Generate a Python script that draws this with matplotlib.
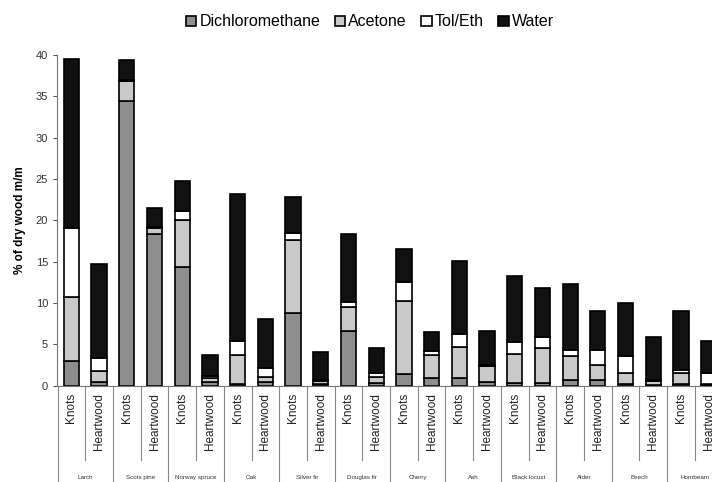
import matplotlib
matplotlib.use("Agg")
import matplotlib.pyplot as plt
import matplotlib.transforms as mtransforms
import numpy as np

plt.rcParams["font.family"] = ["Liberation Sans Narrow", "Liberation Sans", "DejaVu Sans"]

species = ["Larch", "Scots pine", "Norway spruce", "Oak", "Silver fir", "Douglas fir",
           "Cherry", "Ash", "Black locust", "Alder", "Beech", "Hornbeam"]
parts = ["Knots", "Heartwood"]

dcm = [3.0, 0.4, 34.4, 18.3, 14.4, 0.4, 0.2, 0.4, 8.8, 0.2, 6.6, 0.3,
       1.4, 0.9, 0.9, 0.4, 0.3, 0.3, 0.7, 0.7, 0.2, 0.1, 0.2, 0.1]
acetone = [7.7, 1.4, 2.5, 0.8, 5.6, 0.5, 3.5, 0.6, 8.8, 0.3, 2.9, 0.7,
           8.8, 2.8, 3.8, 2.0, 3.5, 4.3, 2.9, 1.8, 1.35, 0.5, 1.3, 0.1]
toleth = [8.4, 1.5, 0.1, 0.1, 1.1, 0.3, 1.75, 1.1, 0.9, 0.2, 0.6, 0.5,
          2.3, 0.5, 1.6, 0.1, 1.45, 1.3, 0.7, 1.8, 2.0, 0.1, 0.4, 1.3]
water = [20.4, 11.4, 2.4, 2.3, 3.7, 2.5, 17.7, 6.0, 4.3, 3.4, 8.3, 3.0,
         4.0, 2.25, 8.8, 4.1, 8.05, 5.9, 8.0, 4.7, 6.45, 5.15, 7.1, 3.95]

series = [("Dichloromethane", dcm, "#8e8e8e"),
          ("Acetone", acetone, "#c9c9c9"),
          ("Tol/Eth", toleth, "#ffffff"),
          ("Water", water, "#111111")]

fig = plt.figure(figsize=(7.12, 4.82), dpi=100)
ax = fig.add_axes([57 / 712, 0.2, 655 / 712, 0.686])

x = np.arange(len(dcm))
bottom = np.zeros(len(dcm))
for name, vals, col in series:
    ax.bar(x, vals, 0.55, bottom=bottom, color=col, edgecolor="black",
           linewidth=1.2, label=name)
    bottom += np.array(vals)

ax.set_xlim(-0.52, 23.12)
ax.set_ylim(0, 40)
ax.set_yticks(range(0, 41, 5))
ax.tick_params(axis="y", labelsize=8, colors="#555555", length=3, width=0.8, labelcolor="#333333")
ax.set_xticks([])
for s in ["top", "right"]:
    ax.spines[s].set_visible(False)
ax.spines["left"].set_color("#777777")
ax.spines["bottom"].set_color("#777777")
ax.set_ylabel("% of dry wood m/m", fontsize=8.5, fontweight="bold", labelpad=7)

trans = mtransforms.blended_transform_factory(ax.transData, ax.transAxes)
# Knots / Heartwood labels, separators and species names
for i in range(len(dcm)):
    ax.text(i, -0.022, parts[i % 2], transform=trans, rotation=90, ha="center", va="top",
            fontsize=8.5, color="#222222")
for i in range(len(dcm)):
    xb = i - 0.5
    low = -0.3 if i % 2 == 0 else -0.225
    ax.plot([xb, xb], [0, low], transform=trans, color="#888888", lw=0.8, clip_on=False)
for g, name in enumerate(species):
    ax.text(2 * g + 0.5, -0.277, name, transform=trans, ha="center", va="center",
            fontsize=4.5, color="#333333")

fig.legend(loc="center", bbox_to_anchor=(370 / 712, 1 - 22 / 482), ncol=4, frameon=False,
           fontsize=11.5, handlelength=0.65, handleheight=0.65, handletextpad=0.2,
           columnspacing=0.9)

fig.savefig("out.png", dpi=100, facecolor="white")
